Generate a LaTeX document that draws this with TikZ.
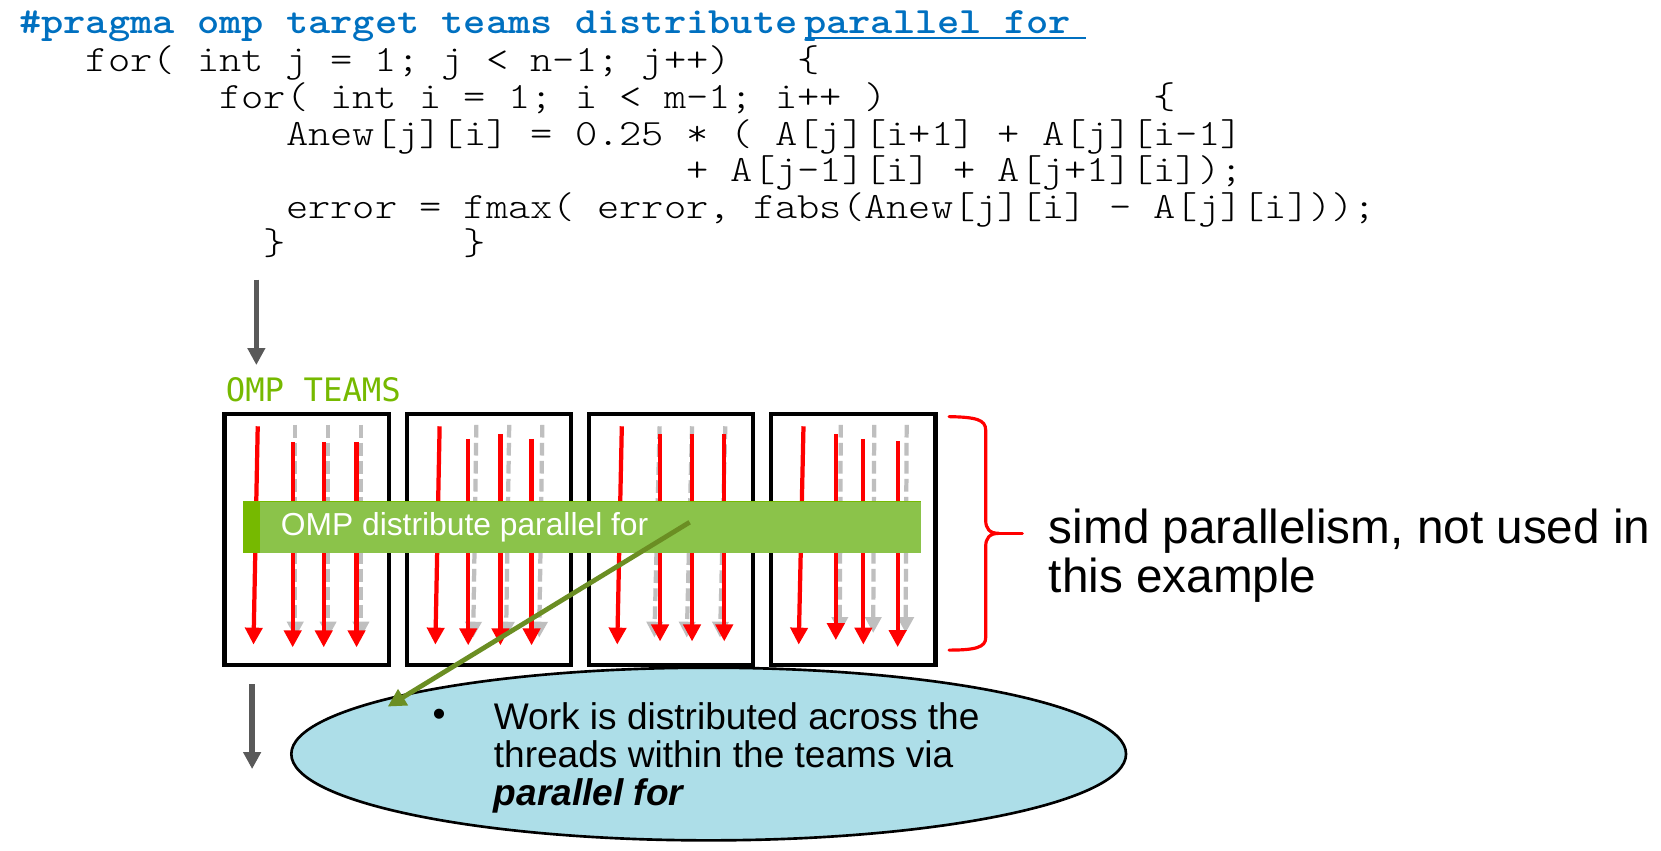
\documentclass[tikz,border=0pt]{standalone}
\usepackage{fontspec}
\setmainfont{Liberation Sans}
\newfontfamily\codefont{lmmonolt10-regular.otf}[FakeStretch=1.143]
\newfontfamily\pragmafont{lmmonolt10-bold.otf}[FakeStretch=1.143]
\newfontfamily\teamfont{DejaVu Sans Mono}
\usetikzlibrary{arrows.meta,shapes.geometric}

\definecolor{pragmablue}{RGB}{0,112,192}
\definecolor{ompgreen}{RGB}{118,185,0}
\definecolor{barfill}{RGB}{139,195,74}
\definecolor{linkgreen}{RGB}{107,142,35}
\definecolor{notefill}{RGB}{173,222,232}
\definecolor{flowgrey}{RGB}{89,89,89}
\definecolor{simdgrey}{RGB}{191,191,191}

\tikzset{
  code/.style={font=\codefont\fontsize{35}{35}\selectfont, anchor=base west, inner sep=0pt, outer sep=0pt},
  pragma/.style={code, font=\pragmafont\fontsize{35}{35}\selectfont, text=pragmablue},
  teamlabel/.style={font=\teamfont\fontsize{30.5}{30.5}\selectfont, text=ompgreen, anchor=base west, inner sep=0pt},
  teambox/.style={draw=black, line width=4pt, fill=white, minimum width=155pt, minimum height=237.5pt, inner sep=0pt, outer sep=0pt},
  redthread/.style={draw=red, line width=4pt, -{Triangle[width=16pt,length=16pt]}},
  simdlane/.style={draw=simdgrey, line width=4pt, dash pattern=on 12pt off 5pt, -{Triangle[width=15pt,length=15pt]}},
  barbox/.style={fill=barfill, minimum width=639.5pt, minimum height=48.4pt, inner sep=0pt, outer sep=0pt, anchor=north west},
  bartext/.style={font=\fontsize{30}{30}\selectfont, text=white, anchor=base west, inner sep=0pt},
  note/.style={ellipse, draw=black, line width=2.5pt, fill=notefill, minimum width=788pt, minimum height=163pt, inner sep=0pt},
  notetext/.style={font=\fontsize{35}{35}\selectfont, anchor=base west, inner sep=0pt},
  simdtext/.style={font=\fontsize{45}{45}\selectfont, anchor=base west, inner sep=0pt},
  flow/.style={draw=flowgrey, line width=5pt, -{Triangle[width=16pt,length=16pt]}},
  link/.style={draw=linkgreen, line width=4.5pt, -{Triangle[width=17pt,length=17pt]}},
  bracket/.style={draw=red, line width=3pt, line join=round, line cap=round},
}

\begin{document}
\frenchspacing
\begin{tikzpicture}[x=1pt, y=-1pt]
  \useasboundingbox (0,0) rectangle (1568,803);

  % source code
  \node[pragma] (hdr) at (18,31.5) {\#pragma omp target teams distribute};
  \node[pragma] (hdrpf) at (759,31.5) {parallel for};
  \draw[pragmablue, line width=2pt] ([xshift=1pt,yshift=-4pt]hdrpf.base west) -- ++(265,0);
  \node[code] (l2) at (81,67.7) {for( int j = 1; j < n-1; j++)};
  \node[code] (l2b) at (753,67.7) {\{};
  \node[code] (l3) at (207,102.3) {for( int i = 1; i < m-1; i++ )};
  \node[code] (l3b) at (1089,102.3) {\{};
  \node[code] (l4) at (270,136.9) {Anew[j][i] = 0.25 * ( A[j][i+1] + A[j][i-1]};
  \node[code] (l5) at (648,171.5) {+ A[j-1][i] + A[j+1][i]);};
  \node[code] (l6) at (270,206.1) {error = fmax( error, fabs(Anew[j][i] - A[j][i]));};
  \node[code] (l7a) at (249,240.7) {\}};
  \node[code] (l7b) at (438,240.7) {\}};

  % flow arrows
  \coordinate (flowAtop) at (242,264);
  \coordinate (flowAend) at (242,344.6);
  \draw[flow] (flowAtop) -- (flowAend);
  \coordinate (flowBtop) at (238,645.7);
  \coordinate (flowBend) at (238,726);
  \draw[flow] (flowBtop) -- (flowBend);

  % teams
  \node[teamlabel] (teams) at (213,379) {OMP TEAMS};
  \node[teambox] (t1) at (289.5,509.25) {};
  \node[teambox] (t2) at (461.5,509.25) {};
  \node[teambox] (t3) at (633.5,509.25) {};
  \node[teambox] (t4) at (805.5,509.25) {};

  \begin{scope}[shift={(t1.north west)}]
    \foreach \x in {66.7,97.7,128.7}
      \draw[simdlane] (\x,10.5) -- (\x,211.4);
    \draw[redthread] (31.3,11.9) -- (27.3,218);
    \foreach \x in {64.3,93.6,124.6}
      \draw[redthread] (\x,26.6) -- (\x,220.6);
  \end{scope}

  \begin{scope}[shift={(t2.north west)}]
    \foreach \x in {65.7,96.7,128}
      \draw[simdlane] (\x,10.5) -- (\x-3,211.4);
    \draw[redthread] (31,11.9) -- (27,218);
    \foreach \x/\y in {58/23.8,88.4/19,117.8/23.8}
      \draw[redthread] (\x,\y) -- (\x,218.7);
  \end{scope}

  \begin{scope}[shift={(t3.north west)}]
    \foreach \x in {66.7,97.3,128.7}
      \draw[simdlane] (\x,11.9) -- (\x-5,211.4);
    \draw[redthread] (31,11.9) -- (26.7,218);
    \foreach \x in {67.1,97.3,127.7}
      \draw[redthread] (\x,19.5) -- (\x,215);
  \end{scope}

  \begin{scope}[shift={(t4.north west)}]
    \foreach \x in {65.7,97.3,127.9}
      \draw[simdlane] (\x,10.5) -- (\x-1,207);
    \draw[redthread] (30.5,11.9) -- (26,218);
    \foreach \x/\y/\z in {61/19.5/213.8,87/23.8/218,119.4/26.1/220.4}
      \draw[redthread] (\x,\y) -- (\x,\z);
  \end{scope}

  % distribute parallel for bar
  \node[barbox] (bar) at (229.5,473.6) {};
  \fill[ompgreen] (bar.north west) rectangle ([xshift=16pt]bar.south west);
  \draw[ompgreen, line width=1pt] (bar.north west) -- (bar.north east);
  \node[bartext] (bartxt) at (265,505.5) {OMP distribute parallel for};

  % simd bracket
  \draw[bracket] (896,393.3) .. controls (921,393.8) and (930.5,396) .. (930.5,406)
    -- (930.5,491) .. controls (930.5,499) and (934,503.5) .. (943,503.5)
    .. controls (934,503.5) and (930.5,508) .. (930.5,516)
    -- (930.5,602) .. controls (930.5,611) and (921,613.7) .. (896,613.7);
  \coordinate (bracemid) at (943,503.5);
  \coordinate (bracetip) at (965,503.5);
  \draw[bracket] (bracemid) -- (bracetip);
  \node[simdtext] (simd1) at (990,513) {simd parallelism, not used in};
  \node[simdtext] (simd2) at (990,559) {this example};

  % explanation bubble
  \node[note] (note) at (669,711.8) {};
  \node[font=\fontsize{35}{35}\selectfont, inner sep=0pt] (bullet) at (414.5,678) {•};
  \node[notetext] (n1) at (466,689) {Work is distributed across the};
  \node[notetext] (n2) at (466,724.5) {threads within the teams via};
  \node[notetext] (n3) at (466,760) {\bfseries\itshape parallel for};

  % pointer from the bar to the bubble
  \coordinate (linkfrom) at (651,493);
  \coordinate (linkto) at (366,667);
  \draw[link] (linkfrom) -- (linkto);
\end{tikzpicture}
\end{document}
